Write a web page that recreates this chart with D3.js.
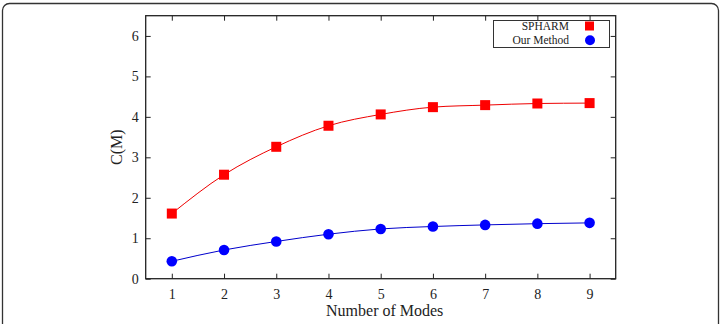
<!DOCTYPE html>
<html><head><meta charset="utf-8">
<script src="https://cdn.jsdelivr.net/npm/d3@7"></script>
<style>body{margin:0;background:#fff}svg{display:block}text{font-family:"Liberation Serif","Times New Roman",serif !important;fill:#222}</style>
</head><body><svg id="c" width="723" height="324"></svg>
<script>
const modes = [1,2,3,4,5,6,7,8,9];
const spharm = [1.61,2.57,3.26,3.78,4.06,4.24,4.29,4.33,4.34];
const ourMethod = [0.43,0.71,0.92,1.10,1.23,1.29,1.33,1.36,1.38];
const yTicks = [0,1,2,3,4,5,6];
const seriesNames = ["SPHARM","Our Method"];

const svg = d3.select("#c");
svg.append("rect").attr("x",2.5).attr("y",3.5).attr("width",716).attr("height",340)
  .attr("rx",7).attr("fill","none").attr("stroke","#333").attr("stroke-width",1.3);

const L=145.7,R=615.7,T=15.7,B=278.7;
const x = d3.scaleLinear().domain([0.5,9.5]).range([L,R]);
const y = d3.scaleLinear().domain([0,6.5]).range([B,T]);
const g = svg.append("g");

const tk=5;
const axB = g.append("g").attr("transform",`translate(0,${B})`).call(d3.axisBottom(x).tickValues(modes).tickSize(-tk).tickPadding(10).tickFormat(d3.format("d")));
const axT = g.append("g").attr("transform",`translate(0,${T})`).call(d3.axisTop(x).tickValues(modes).tickSize(-tk).tickFormat(""));
const axL = g.append("g").attr("transform",`translate(${L},0)`).call(d3.axisLeft(y).tickValues(yTicks).tickSize(-tk).tickPadding(7).tickFormat(d3.format("d")));
const axR = g.append("g").attr("transform",`translate(${R},0)`).call(d3.axisRight(y).tickValues(yTicks).tickSize(-tk).tickFormat(""));
[axB,axT,axL,axR].forEach(a=>{
  a.attr("font-family",null).attr("font-size",null);
  a.select(".domain").remove();
  a.selectAll("line").attr("stroke","#222");
  a.selectAll("text").style("font-family","'Liberation Serif', serif").style("font-size","14px").attr("fill","#222");
});
g.append("rect").attr("x",L).attr("y",T).attr("width",R-L).attr("height",B-T)
  .attr("fill","none").attr("stroke","#222").attr("stroke-width",1.3);

const line = d3.line().x((d,i)=>x(modes[i])).y(d=>y(d)).curve(d3.curveMonotoneX);
g.append("path").datum(spharm).attr("d",line).attr("fill","none").attr("stroke","#e00").attr("stroke-width",1);
g.append("path").datum(ourMethod).attr("d",line).attr("fill","none").attr("stroke","#00c").attr("stroke-width",1);

const s=10;
g.selectAll(".sq").data(spharm).join("rect").attr("x",(d,i)=>x(modes[i])-s/2).attr("y",d=>y(d)-s/2)
  .attr("width",s).attr("height",s).attr("fill","#ff0000");
g.selectAll(".ci").data(ourMethod).join("circle").attr("cx",(d,i)=>x(modes[i])).attr("cy",d=>y(d))
  .attr("r",5.3).attr("fill","#0000ff");

const lg = svg.append("g");
lg.append("rect").attr("x",493.5).attr("y",20.5).attr("width",116).attr("height",27)
  .attr("fill","#fff").attr("stroke","#333").attr("stroke-width",1);
lg.append("text").attr("x",569).attr("y",29.5).attr("text-anchor","end").style("font-size","11.5px").text(seriesNames[0]);
lg.append("text").attr("x",569).attr("y",44).attr("text-anchor","end").style("font-size","11.5px").text(seriesNames[1]);
lg.append("rect").attr("x",585).attr("y",21.5).attr("width",9).attr("height",9).attr("fill","#ff0000");
lg.append("circle").attr("cx",590).attr("cy",40.3).attr("r",5).attr("fill","#0000ff");

svg.append("text").attr("x",(L+R)/2+4).attr("y",316).attr("text-anchor","middle").style("font-size","16px").text("Number of Modes");
svg.append("text").attr("transform",`translate(122,${(T+B)/2}) rotate(-90)`).attr("text-anchor","middle").style("font-size","16px").text("C(M)");
</script></body></html>
